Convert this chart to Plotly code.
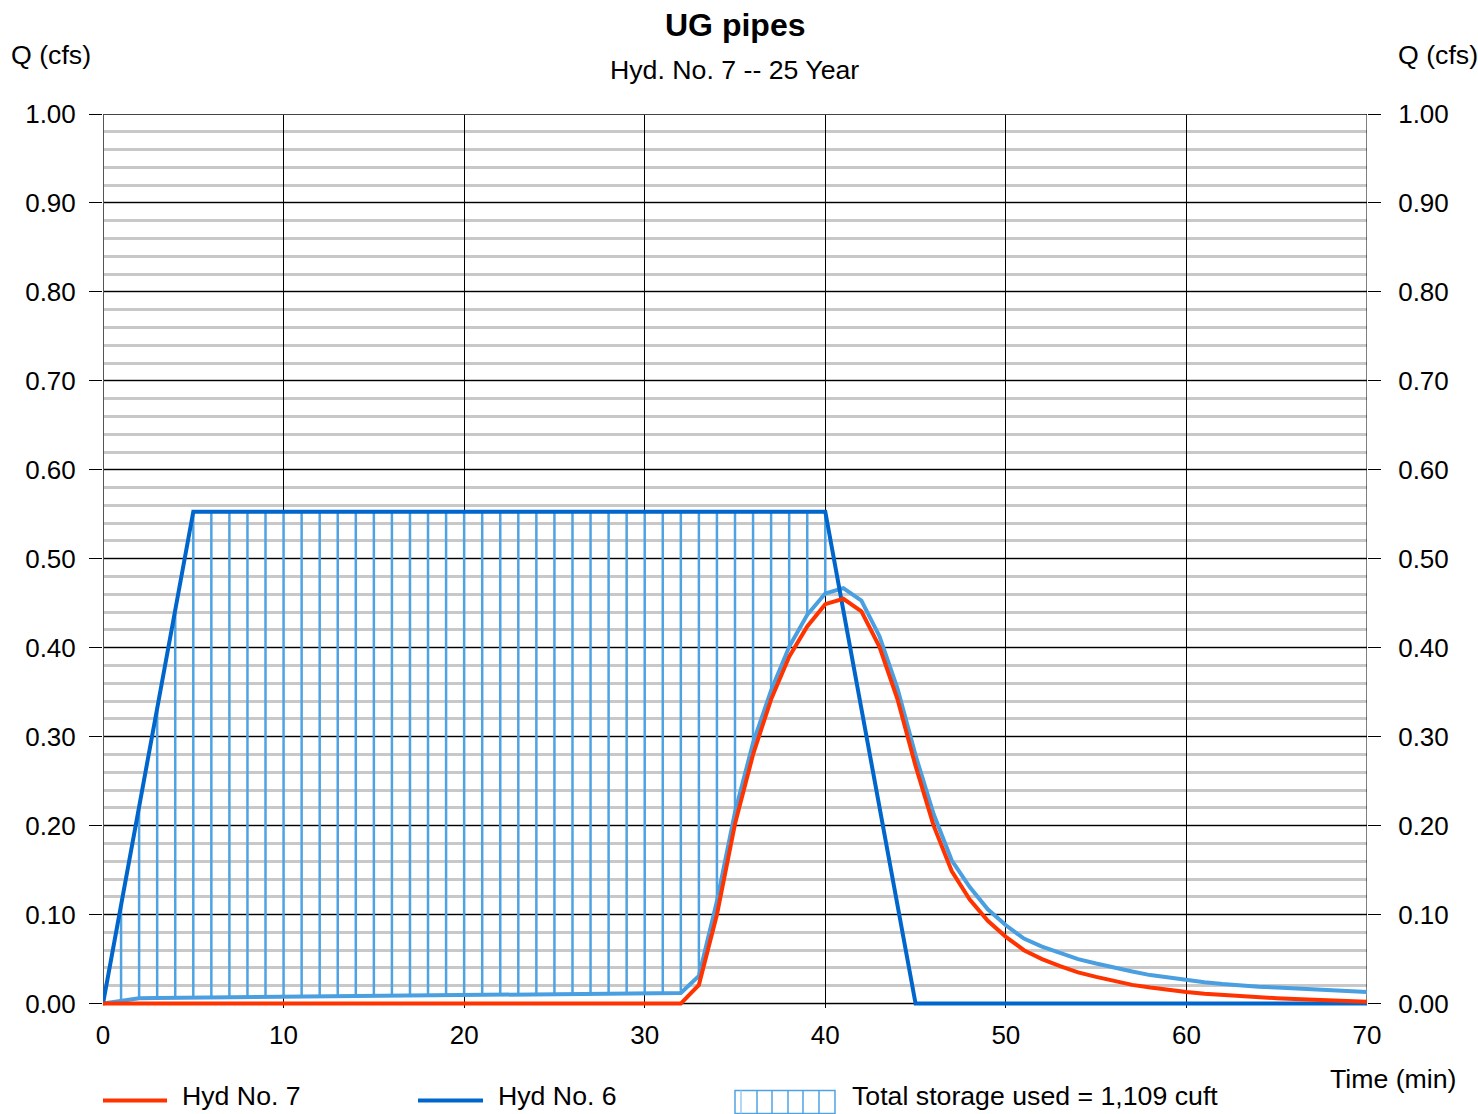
import plotly.graph_objects as go

# ---------------- data (1-minute steps) ----------------
time_min = list(range(0, 71))

# Hyd No. 7 (outflow, red)
hyd7 = [0, 0, 0, 0, 0, 0, 0, 0, 0, 0,
        0, 0, 0, 0, 0, 0, 0, 0, 0, 0,
        0, 0, 0, 0, 0, 0, 0, 0, 0, 0,
        0, 0, 0, 0.021, 0.100, 0.202, 0.280, 0.342, 0.390, 0.424,
        0.449, 0.455, 0.441, 0.401, 0.342, 0.267, 0.200, 0.149, 0.117, 0.093,
        0.075, 0.060, 0.050, 0.042, 0.035, 0.030, 0.025, 0.021, 0.018, 0.015,
        0.013, 0.011, 0.0095, 0.008, 0.007, 0.006, 0.005, 0.004, 0.003, 0.0025,
        0.002]

# Hyd No. 6 (inflow, blue trapezoid)
hyd6 = [0, 0.111, 0.221, 0.332, 0.442, 0.553, 0.553, 0.553, 0.553, 0.553,
        0.553, 0.553, 0.553, 0.553, 0.553, 0.553, 0.553, 0.553, 0.553, 0.553,
        0.553, 0.553, 0.553, 0.553, 0.553, 0.553, 0.553, 0.553, 0.553, 0.553,
        0.553, 0.553, 0.553, 0.553, 0.553, 0.553, 0.553, 0.553, 0.553, 0.553,
        0.553, 0.442, 0.332, 0.221, 0.111, 0, 0, 0, 0, 0,
        0, 0, 0, 0, 0, 0, 0, 0, 0, 0,
        0, 0, 0, 0, 0, 0, 0, 0, 0, 0,
        0]

# lower boundary of the storage area (light blue)
storage_lower = [0, 0.003, 0.006, 0.0062, 0.0064, 0.0066, 0.0068, 0.0069, 0.0071, 0.0073,
                 0.0075, 0.0077, 0.0079, 0.0081, 0.0083, 0.0085, 0.0087, 0.0089, 0.0091, 0.0093,
                 0.0095, 0.0097, 0.0099, 0.0101, 0.0103, 0.0105, 0.0107, 0.0109, 0.0111, 0.0113,
                 0.0115, 0.0117, 0.0119, 0.031, 0.115, 0.215, 0.293, 0.352, 0.401, 0.437,
                 0.461, 0.467, 0.453, 0.413, 0.354, 0.279, 0.213, 0.161, 0.131, 0.106,
                 0.088, 0.073, 0.064, 0.057, 0.050, 0.045, 0.040, 0.036, 0.032, 0.029,
                 0.026, 0.024, 0.022, 0.020, 0.019, 0.018, 0.017, 0.016, 0.015, 0.014,
                 0.013]

y_ticks = [0.0, 0.1, 0.2, 0.3, 0.4, 0.5, 0.6, 0.7, 0.8, 0.9, 1.0]
y_tick_labels = ["0.00", "0.10", "0.20", "0.30", "0.40", "0.50",
                 "0.60", "0.70", "0.80", "0.90", "1.00"]
x_ticks = [0, 10, 20, 30, 40, 50, 60, 70]

title_text = "UG pipes"
subtitle_text = "Hyd. No. 7 -- 25 Year"
legend_names = ["Hyd No. 7", "Hyd No. 6", "Total storage used = 1,109 cuft"]

# ---------------- styling ----------------
RED = "#FF3300"
BLUE = "#0066CC"
LBLUE = "#4A9FE0"
HATCH = "#4FA3E3"
FONT = "Liberation Sans, Arial, sans-serif"
TXT = 26.7

W, H = 1478, 1114
L, R, T = 103, 1367, 114
Y0PX = 1004
PXU = 890.0          # pixels per 1.0 cfs
YMIN = -0.005
B_PX = Y0PX + (-YMIN) * PXU   # bottom of plotting area in pixels
PH = B_PX - T
PW = R - L


def px(xp):
    return (xp - L) / PW


def py(yp):
    return (B_PX - yp) / PH


# hatch segments between storage_lower and hyd6
hx, hy = [], []
for t, top, bot in zip(time_min, hyd6, storage_lower):
    if t > 0 and top > bot:
        hx += [t, t, None]
        hy += [bot, top, None]

fig = go.Figure()
fig.add_trace(go.Scatter(x=hx, y=hy, mode="lines", line=dict(color=HATCH, width=2.5),
                         showlegend=False, hoverinfo="skip"))
fig.add_trace(go.Scatter(x=time_min, y=storage_lower, mode="lines",
                         line=dict(color=LBLUE, width=4), showlegend=False))
fig.add_trace(go.Scatter(x=time_min, y=hyd6, mode="lines", name=legend_names[1],
                         line=dict(color=BLUE, width=4), showlegend=False))
fig.add_trace(go.Scatter(x=time_min, y=hyd7, mode="lines", name=legend_names[0],
                         line=dict(color=RED, width=4), showlegend=False))
# dummy trace for right axis
fig.add_trace(go.Scatter(x=[0], y=[0], yaxis="y2", mode="markers",
                         marker=dict(opacity=0), showlegend=False, hoverinfo="skip"))

tickfont = dict(family=FONT, size=26, color="black")

fig.update_layout(
    width=W, height=H,
    margin=dict(l=L, r=W - R, t=T, b=H - B_PX, pad=0),
    paper_bgcolor="white", plot_bgcolor="white",
    showlegend=False,
    font=dict(family=FONT, color="black"),
    xaxis=dict(range=[0, 70], tickvals=x_ticks, showgrid=True, gridcolor="black",
               gridwidth=1, zeroline=False, showline=False, ticks="",
               tickfont=tickfont, ticklabelstandoff=9),
    yaxis=dict(range=[YMIN, 1.0], tickvals=y_ticks, ticktext=y_tick_labels,
               showgrid=True, gridcolor="black", gridwidth=1, zeroline=False,
               showline=False, ticks="outside", ticklen=13, tickcolor="black",
               tickwidth=1, tickfont=tickfont, ticklabelstandoff=8,
               minor=dict(dtick=0.02, tick0=0, showgrid=True, gridcolor="#C8C8C8",
                          gridwidth=2.5, ticks="")),
    yaxis2=dict(range=[YMIN, 1.0], tickvals=y_ticks, ticktext=y_tick_labels,
                overlaying="y", side="right", showgrid=False, zeroline=False,
                showline=False, ticks="outside", ticklen=13, tickcolor="black",
                tickwidth=1, tickfont=tickfont, ticklabelstandoff=12),
)

shapes = [
    # frame
    dict(type="line", xref="x", yref="y", x0=0, x1=0, y0=0, y1=1.0,
         line=dict(color="#555555", width=2), layer="between"),
    dict(type="line", xref="x", yref="y", x0=0, x1=70, y0=1.0, y1=1.0,
         line=dict(color="#444444", width=2), layer="between"),
    dict(type="line", xref="x", yref="y", x0=70, x1=70, y0=0, y1=1.0,
         line=dict(color="black", width=1), layer="between"),
    dict(type="line", xref="x", yref="y", x0=0, x1=70, y0=0, y1=0,
         line=dict(color="black", width=1), layer="between"),
]

# legend (manual)
LEG_Y = py(1101)
LEG_TXT_Y = py(1096)
shapes.append(dict(type="line", xref="paper", yref="paper", x0=px(103), x1=px(167),
                   y0=LEG_Y, y1=LEG_Y, line=dict(color=RED, width=4)))
shapes.append(dict(type="line", xref="paper", yref="paper", x0=px(418), x1=px(483),
                   y0=LEG_Y, y1=LEG_Y, line=dict(color=BLUE, width=4)))
shapes.append(dict(type="rect", xref="paper", yref="paper", x0=px(735), x1=px(835),
                   y0=py(1114), y1=py(1091), line=dict(color=HATCH, width=1.5),
                   fillcolor="rgba(0,0,0,0)"))
for xx in [741, 757, 772, 788, 803, 819]:
    shapes.append(dict(type="line", xref="paper", yref="paper", x0=px(xx), x1=px(xx),
                       y0=py(1114), y1=py(1091),
                       line=dict(color=HATCH if xx != 741 else "#9BCBF0", width=1.5)))
fig.update_layout(shapes=shapes)

ann = [
    dict(text="<b>%s</b>" % title_text, x=px(735), y=py(25), font=dict(size=32),
         xanchor="center", yanchor="middle"),
    dict(text=subtitle_text, x=px(734), y=py(70), font=dict(size=TXT),
         xanchor="center", yanchor="middle"),
    dict(text="Q (cfs)", x=px(9), y=py(55), font=dict(size=TXT),
         xanchor="left", yanchor="middle"),
    dict(text="Q (cfs)", x=px(1396), y=py(55), font=dict(size=TXT),
         xanchor="left", yanchor="middle"),
    dict(text="Time (min)", x=px(1328), y=py(1079), font=dict(size=TXT),
         xanchor="left", yanchor="middle"),
    dict(text=legend_names[0], x=px(180), y=LEG_TXT_Y, font=dict(size=TXT),
         xanchor="left", yanchor="middle"),
    dict(text=legend_names[1], x=px(496), y=LEG_TXT_Y, font=dict(size=TXT),
         xanchor="left", yanchor="middle"),
    dict(text=legend_names[2], x=px(850), y=LEG_TXT_Y, font=dict(size=TXT),
         xanchor="left", yanchor="middle"),
]
for a in ann:
    a.update(xref="paper", yref="paper", showarrow=False)
    a["font"].update(family=FONT, color="black")
fig.update_layout(annotations=ann)

fig.write_html("out.html")
